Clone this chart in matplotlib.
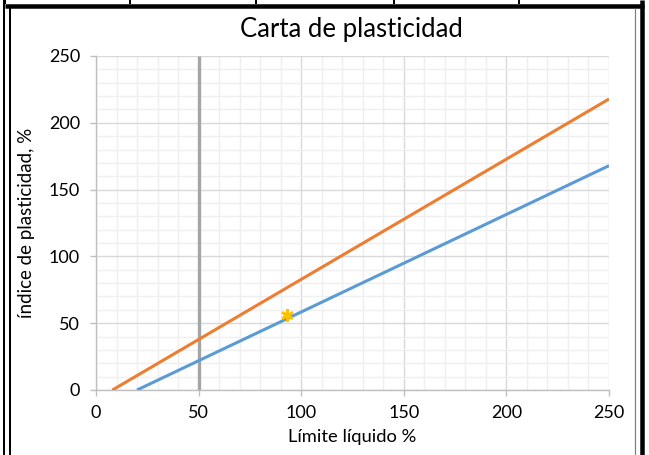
import matplotlib
matplotlib.use("Agg")
import matplotlib.pyplot as plt
from matplotlib.lines import Line2D
from matplotlib.ticker import MultipleLocator

plt.rcParams['font.family'] = ['Lato', 'DejaVu Sans']

# Casagrande plasticity chart
u_line_ll = [8, 250]
u_line_pi = [0, 217.8]
a_line_ll = [20, 250]
a_line_pi = [0, 167.9]
ll50_ll = [50, 50]
ll50_pi = [0, 250]
sample_ll = [93]
sample_pi = [56]

x_ticks = [0, 50, 100, 150, 200, 250]
y_ticks = [0, 50, 100, 150, 200, 250]

W, H = 649, 455
fig = plt.figure(figsize=(W / 100, H / 100), dpi=100)
fig.patch.set_facecolor('white')


def fx(x):
    return x / W


def fy(y):
    return 1 - y / H


ax = fig.add_axes([fx(96), fy(390), fx(609) - fx(96), fy(56) - fy(390)])
ax.set_xlim(0, 250)
ax.set_ylim(0, 250)

ax.xaxis.set_major_locator(MultipleLocator(50))
ax.yaxis.set_major_locator(MultipleLocator(50))
ax.xaxis.set_minor_locator(MultipleLocator(10))
ax.yaxis.set_minor_locator(MultipleLocator(10))
ax.grid(which='minor', color='#efefef', linewidth=1.0, zorder=0)
ax.grid(which='major', color='#d9d9d9', linewidth=1.0, zorder=0)
ax.set_axisbelow(True)

for side in ['top', 'right']:
    ax.spines[side].set_visible(False)
for side in ['left', 'bottom']:
    ax.spines[side].set_color('#bfbfbf')
    ax.spines[side].set_linewidth(1.0)

ax.tick_params(which='major', length=4.5, width=1, color='#bfbfbf',
               labelsize=13, labelcolor='#000000')
ax.tick_params(axis='y', which='major', pad=7)
ax.tick_params(axis='x', which='major', pad=6)
ax.tick_params(which='minor', length=0)
ax.set_xticks(x_ticks)
ax.set_yticks(y_ticks)

ax.plot(ll50_ll, ll50_pi, color='#a5a5a5', linewidth=2.4, solid_capstyle='butt', zorder=3)
ax.plot(u_line_ll, u_line_pi, color='#ed7d31', linewidth=2.2, solid_capstyle='butt', zorder=4)
ax.plot(a_line_ll, a_line_pi, color='#5b9bd5', linewidth=2.2, solid_capstyle='butt', zorder=4)
ax.plot(sample_ll, sample_pi, linestyle='none', marker=(6, 2, 0), markersize=9,
        markeredgewidth=1.8, color='#ffc000', zorder=5)

ax.set_xlabel('Límite líquido %', fontsize=13.2, labelpad=6)
ax.set_ylabel('índice de plasticidad, %', fontsize=13.5, labelpad=10)
fig.text(fx(351), fy(30), 'Carta de plasticidad', fontsize=18.5,
         ha='center', va='center')


# sheet borders around the chart object
def hline(x0, x1, y, lw, color='black'):
    fig.add_artist(Line2D([fx(x0), fx(x1)], [fy(y), fy(y)], color=color,
                          linewidth=lw * 0.72, solid_capstyle='butt'))


def vline(x, y0, y1, lw, color='black'):
    fig.add_artist(Line2D([fx(x), fx(x)], [fy(y0), fy(y1)], color=color,
                          linewidth=lw * 0.72, solid_capstyle='butt'))


vline(4, 0, H, 2)
vline(10, 8, H, 2)
hline(5, 644, 5.5, 4.5)
for xc in [5, 130, 256, 394, 519]:
    vline(xc, 0, 4, 2)
vline(634.5, 8, H, 1.2, color='#7f7f7f')
vline(642, 0, H, 4.5)

fig.savefig('out.png', dpi=100, facecolor='white')
